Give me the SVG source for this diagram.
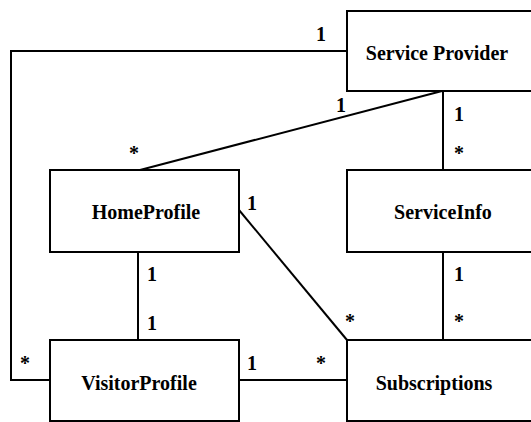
<svg xmlns="http://www.w3.org/2000/svg" width="531" height="422" viewBox="0 0 531 422">
<style>
.box{fill:#fff;stroke:#000;stroke-width:2}
.ln{fill:none;stroke:#000;stroke-width:2}
</style>
<rect width="531" height="422" fill="#fff"/>
<g font-family="Liberation Serif" font-weight="bold" font-size="20" text-anchor="middle" fill="#000">
<g id="connectors">
<polyline class="ln" points="347,51 11,51 11,380 50,380"/>
<line class="ln" x1="442" y1="91" x2="140" y2="170"/>
<line class="ln" x1="443" y1="91" x2="443" y2="170"/>
<line class="ln" x1="239" y1="210" x2="347" y2="340"/>
<line class="ln" x1="138" y1="252" x2="138" y2="340"/>
<line class="ln" x1="443" y1="252" x2="443" y2="340"/>
<line class="ln" x1="239" y1="380" x2="347" y2="380"/>
<text x="321" y="41">1</text>
<text x="341" y="112">1</text>
<text x="459" y="121">1</text>
<text x="459" y="160">*</text>
<text x="134" y="160">*</text>
<text x="252" y="210">1</text>
<text x="152" y="281">1</text>
<text x="152" y="330">1</text>
<text x="350" y="328">*</text>
<text x="459" y="281">1</text>
<text x="459" y="328">*</text>
<text x="25" y="370">*</text>
<text x="252" y="370">1</text>
<text x="321" y="370">*</text>
</g>
<g id="service-provider">
<rect class="box" x="347" y="11" width="192" height="80"/>
<text x="437" y="60">Service Provider</text>
</g>
<g id="home-profile">
<rect class="box" x="50" y="170" width="189" height="82"/>
<text x="146" y="219">HomeProfile</text>
</g>
<g id="service-info">
<rect class="box" x="347" y="170" width="192" height="82"/>
<text x="443" y="219">ServiceInfo</text>
</g>
<g id="visitor-profile">
<rect class="box" x="50" y="340" width="189" height="81"/>
<text x="139" y="390">VisitorProfile</text>
</g>
<g id="subscriptions">
<rect class="box" x="347" y="340" width="192" height="81"/>
<text x="434" y="390">Subscriptions</text>
</g>
</g>
</svg>
